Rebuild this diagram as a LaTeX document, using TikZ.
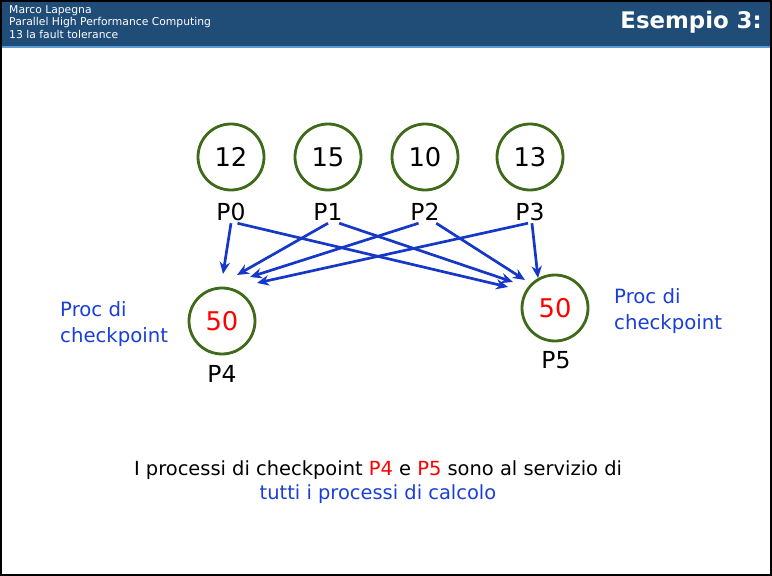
\documentclass[tikz,border=0pt]{standalone}
\usepackage{fontspec}
\setmainfont{DejaVu Sans}
\usetikzlibrary{arrows.meta,positioning,calc}
\definecolor{barblue}  {HTML}{1F4D78}
\definecolor{lineblue} {HTML}{5B9BD5}
\definecolor{ringgreen}{HTML}{3F6A1A}
\definecolor{arrblue}  {HTML}{1538C8}
\definecolor{txtblue}  {HTML}{1A3FD6}
\definecolor{numred}   {HTML}{FF0000}
\tikzset{
  procnode/.style ={circle, draw=ringgreen, line width=2.4pt,
                    minimum size=19.8mm, inner sep=0pt,
                    font=\fontsize{22}{25}\selectfont},
  proclabel/.style={rectangle, minimum width=8.4mm, minimum height=6.6mm,
                    inner sep=0pt, font=\fontsize{20}{23}\selectfont},
  ckptext/.style  ={align=left, text=txtblue, inner sep=0pt,
                    font=\fontsize{16.8}{21.5}\selectfont},
  flowarr/.style  ={-{Stealth[length=3.6mm,width=3.1mm]}, line width=2.3pt,
                    color=arrblue},
}
\begin{document}
\begin{tikzpicture}[x=0.3mm,y=-0.3mm]
  \useasboundingbox (0,0) rectangle (772,576);

  % slide frame and title bar
  \fill[barblue] (0,0) rectangle (772,46);
  \fill[lineblue] (0,46) rectangle (772,48.5);
  \draw[black,line width=1.6pt] (1,1) rectangle (771,575);
  \node[anchor=north west,align=left,text=white,inner sep=0pt,
        font=\fontsize{9.2}{10.8}\selectfont] (hdr) at (9,5)
    {Marco Lapegna\\Parallel High Performance Computing\\13 la fault tolerance};
  \node[anchor=east,text=white,inner sep=0pt,
        font=\fontsize{19.5}{22}\selectfont\bfseries] (ttl) at (762,22) {Esempio 3:};

  % computing processes
  \node[procnode] (c0) at (231,157) {12};
  \node[procnode] (c1) at (328,157) {15};
  \node[procnode] (c2) at (425,157) {10};
  \node[procnode] (c3) at (530,157) {13};
  \node[proclabel] (l0) at (231,212) {P0};
  \node[proclabel] (l1) at (328,212) {P1};
  \node[proclabel] (l2) at (425,212) {P2};
  \node[proclabel] (l3) at (530,212) {P3};

  % checkpoint processes
  \node[procnode,text=numred] (c4) at (222,321) {50};
  \node[procnode,text=numred] (c5) at (555,308) {50};
  \node[proclabel] (l4) at (222,374) {P4};
  \node[proclabel] (l5) at (556,360) {P5};

  \node[ckptext,anchor=west] (k4) at (60,324) {Proc di\\checkpoint};
  \node[ckptext,anchor=west] (k5) at (614,311) {Proc di\\checkpoint};

  % arrow tips near P4 and P5
  \coordinate (a40) at (223,274);
  \coordinate (a41) at (237,275);
  \coordinate (a42) at (250,277);
  \coordinate (a43) at (257,283);
  \coordinate (a50) at (508,287);
  \coordinate (a51) at (513,282);
  \coordinate (a52) at (525,280);
  \coordinate (a53) at (538,278);

  % every process sends to both
  \draw[flowarr] (l0.south) -- (a40);
  \draw[flowarr] (l0.-60)   -- (a50);
  \draw[flowarr] (l1.south) -- (a41);
  \draw[flowarr] (l1.-45)   -- (a51);
  \draw[flowarr] (l2.-120)  -- (a42);
  \draw[flowarr] (l2.-45)   -- (a52);
  \draw[flowarr] (l3.-100)  -- (a43);
  \draw[flowarr] (l3.-80)   -- (a53);

  % caption
  \node[align=center,font=\fontsize{16.6}{21}\selectfont] (cap) at (378,482)
    {I processi di checkpoint \textcolor{numred}{P4} e \textcolor{numred}{P5} sono al servizio di\\
     \textcolor{txtblue}{tutti i processi di calcolo}};
\end{tikzpicture}
\end{document}
